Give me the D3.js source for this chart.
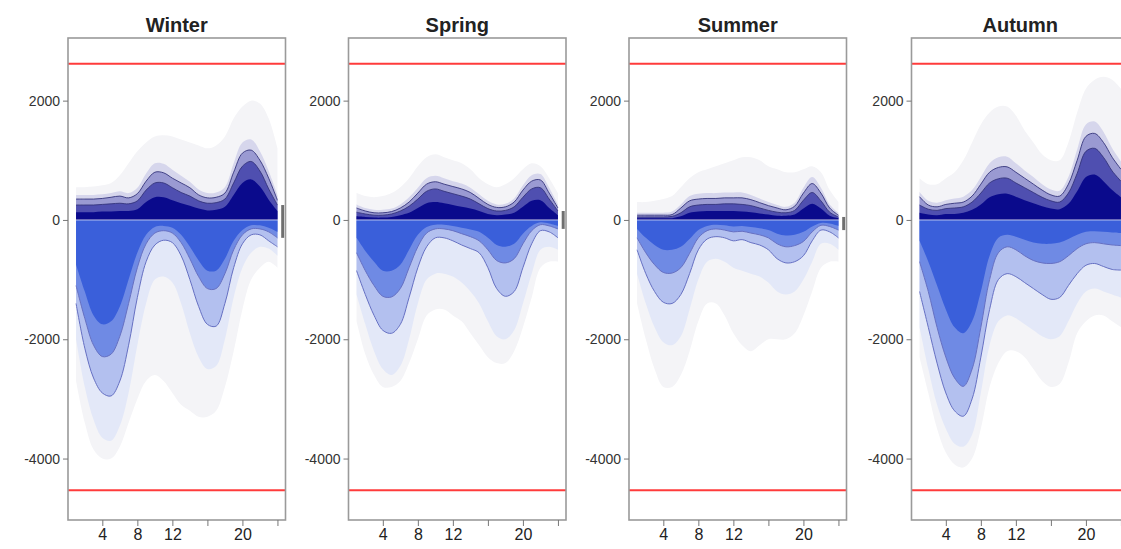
<!DOCTYPE html>
<html>
<head>
<meta charset="utf-8">
<script src="https://cdn.jsdelivr.net/npm/d3@7"></script>
<style>
body { margin: 0; background: #fff; }
text { font-family: "Liberation Sans", Arial, sans-serif; fill: #222; }
</style>
</head>
<body>
<div id="chart"></div>
<script>
//data
var seasons = ["Winter", "Spring", "Summer", "Autumn"];
var hours = [1, 2, 3, 4, 5, 6, 7, 8, 9, 10, 11, 12, 13, 14, 15, 16, 17, 18, 19, 20, 21, 22, 23, 24];
var levels = ["max", "q95", "q90", "q75", "q50"];
var yTicks = [2000, 0, -2000, -4000];
var xTicks = [4, 8, 12, 16, 20, 24];
var xLabels = [4, 8, 12, 20];
var limits = [2620, -4530];

// rows follow `levels`
var winterUp = [
    [550, 550, 560, 580, 620, 750, 950, 1150, 1300, 1400, 1420, 1400, 1350, 1300, 1250, 1200, 1250, 1400, 1700, 1900, 2000, 1950, 1700, 1200],
    [420, 420, 420, 430, 450, 480, 450, 540, 780, 950, 940, 840, 740, 640, 510, 450, 460, 550, 950, 1300, 1350, 1150, 820, 420],
    [350, 350, 350, 360, 380, 400, 370, 440, 650, 800, 790, 700, 620, 540, 420, 370, 380, 450, 800, 1120, 1170, 1000, 700, 330],
    [250, 250, 250, 260, 270, 280, 270, 320, 500, 620, 620, 540, 460, 400, 320, 280, 290, 350, 620, 900, 980, 820, 520, 250],
    [130, 130, 130, 140, 140, 150, 150, 180, 300, 380, 380, 330, 280, 240, 190, 160, 170, 220, 420, 620, 680, 560, 340, 150]
];
var winterDown = [
    [-2700, -3400, -3850, -4000, -4000, -3800, -3400, -3000, -2700, -2600, -2700, -2900, -3100, -3200, -3300, -3300, -3200, -2800, -2200, -1500, -1000, -800, -700, -800],
    [-2000, -2800, -3350, -3650, -3700, -3450, -2900, -2100, -1400, -1000, -950, -1050, -1400, -1900, -2300, -2500, -2450, -2000, -1300, -800, -550, -450, -480, -600],
    [-1400, -2150, -2650, -2900, -2950, -2700, -2100, -1300, -700, -420, -340, -380, -600, -1000, -1450, -1750, -1780, -1400, -800, -400, -250, -250, -350, -450],
    [-1100, -1650, -2100, -2290, -2250, -1950, -1400, -800, -400, -220, -180, -220, -380, -650, -950, -1150, -1150, -900, -500, -250, -150, -150, -200, -300],
    [-750, -1200, -1600, -1750, -1700, -1450, -1000, -550, -250, -120, -100, -130, -250, -450, -680, -850, -850, -650, -350, -170, -90, -90, -130, -200]
];
var springUp = [
    [450, 400, 380, 400, 450, 550, 700, 900, 1050, 1100, 1050, 1000, 950, 850, 700, 600, 550, 600, 700, 850, 950, 900, 700, 450],
    [260, 200, 170, 170, 190, 260, 380, 540, 700, 740, 700, 650, 610, 540, 430, 320, 260, 270, 360, 580, 750, 770, 540, 260],
    [200, 150, 120, 120, 140, 200, 300, 450, 600, 640, 600, 560, 520, 460, 360, 260, 210, 220, 300, 500, 650, 670, 450, 200],
    [130, 100, 80, 80, 100, 150, 230, 350, 480, 520, 480, 440, 400, 350, 270, 190, 150, 160, 220, 380, 520, 540, 350, 150],
    [60, 50, 40, 40, 50, 80, 120, 200, 280, 300, 280, 250, 220, 190, 150, 100, 80, 90, 120, 220, 320, 330, 200, 80]
];
var springDown = [
    [-1700, -2250, -2600, -2800, -2800, -2700, -2400, -2000, -1600, -1500, -1500, -1600, -1700, -1900, -2100, -2300, -2400, -2400, -2200, -1800, -1300, -800, -700, -700],
    [-1250, -1750, -2200, -2500, -2600, -2450, -2000, -1400, -1000, -900, -900, -950, -1050, -1200, -1400, -1700, -1950, -2000, -1850, -1400, -900, -500, -450, -500],
    [-850, -1250, -1600, -1850, -1900, -1750, -1300, -800, -450, -300, -300, -350, -420, -480, -550, -800, -1150, -1280, -1200, -800, -400, -180, -200, -300],
    [-550, -850, -1100, -1280, -1290, -1150, -800, -450, -220, -150, -150, -180, -230, -280, -350, -500, -680, -720, -650, -400, -180, -80, -100, -150],
    [-300, -520, -700, -850, -850, -750, -500, -250, -120, -80, -80, -100, -130, -160, -200, -300, -420, -450, -400, -230, -100, -40, -60, -100]
];
var summerUp = [
    [300, 300, 320, 350, 400, 550, 700, 800, 850, 900, 950, 1000, 1050, 1050, 1000, 900, 850, 800, 800, 850, 900, 800, 500, 300],
    [120, 120, 120, 120, 140, 260, 400, 440, 450, 450, 460, 460, 460, 420, 360, 300, 250, 220, 290, 540, 720, 540, 260, 120],
    [80, 80, 80, 80, 90, 200, 320, 350, 360, 360, 370, 370, 370, 340, 290, 240, 200, 170, 230, 450, 610, 450, 200, 80],
    [50, 50, 50, 50, 60, 120, 220, 250, 260, 260, 270, 270, 260, 240, 200, 160, 130, 120, 160, 330, 460, 320, 130, 50],
    [30, 30, 30, 30, 30, 60, 120, 140, 150, 150, 150, 150, 140, 130, 110, 90, 70, 70, 90, 190, 270, 190, 70, 30]
];
var summerDown = [
    [-1400, -2000, -2500, -2800, -2800, -2600, -2200, -1700, -1400, -1400, -1600, -1900, -2100, -2200, -2100, -2000, -2000, -2000, -1900, -1600, -1200, -800, -700, -700],
    [-900, -1400, -1800, -2050, -2100, -1950, -1500, -1000, -700, -650, -700, -800, -850, -900, -950, -1050, -1200, -1250, -1200, -1000, -700, -400, -400, -500],
    [-500, -900, -1200, -1380, -1400, -1250, -900, -500, -320, -280, -300, -350, -330, -380, -420, -500, -650, -720, -700, -600, -350, -170, -200, -300],
    [-300, -550, -750, -880, -890, -800, -560, -300, -180, -150, -170, -200, -190, -220, -250, -300, -400, -450, -430, -360, -200, -90, -110, -170],
    [-150, -300, -420, -500, -500, -450, -320, -170, -100, -80, -90, -110, -100, -120, -140, -170, -230, -260, -250, -200, -110, -50, -60, -100]
];
var autumnUp = [
    [700, 600, 600, 700, 800, 1000, 1300, 1600, 1800, 1900, 1900, 1750, 1500, 1300, 1100, 1000, 1000, 1300, 1800, 2200, 2350, 2400, 2350, 2200],
    [470, 320, 290, 330, 360, 390, 500, 720, 950, 1050, 1060, 950, 830, 720, 600, 510, 490, 720, 1180, 1600, 1650, 1480, 1200, 980],
    [390, 250, 220, 260, 280, 300, 400, 600, 800, 880, 890, 800, 700, 600, 500, 420, 400, 600, 1000, 1400, 1450, 1300, 1050, 850],
    [250, 180, 160, 190, 200, 220, 300, 450, 620, 690, 700, 620, 540, 460, 380, 320, 300, 450, 780, 1150, 1200, 1050, 820, 650],
    [120, 90, 80, 100, 100, 120, 170, 260, 380, 430, 440, 390, 330, 280, 230, 190, 180, 270, 480, 720, 760, 650, 500, 380]
];
var autumnDown = [
    [-2300, -2900, -3500, -3900, -4100, -4150, -4000, -3500, -2800, -2400, -2200, -2200, -2300, -2500, -2700, -2800, -2750, -2400, -1900, -1700, -1600, -1600, -1700, -1800],
    [-1800, -2500, -3100, -3500, -3750, -3800, -3600, -2900, -2100, -1700, -1600, -1650, -1750, -1850, -1950, -2000, -1950, -1700, -1400, -1200, -1150, -1200, -1250, -1300],
    [-1200, -1800, -2400, -2900, -3200, -3290, -3000, -2300, -1500, -1000, -900, -950, -1050, -1150, -1250, -1330, -1300, -1100, -900, -760, -730, -780, -830, -840],
    [-700, -1200, -1800, -2300, -2650, -2790, -2500, -1800, -1000, -550, -450, -500, -600, -680, -720, -730, -700, -600, -480, -400, -380, -400, -420, -430],
    [-350, -700, -1100, -1500, -1800, -1900, -1700, -1200, -600, -300, -250, -280, -330, -380, -400, -400, -380, -320, -250, -200, -190, -200, -210, -220]
];
var upData = [winterUp, springUp, summerUp, autumnUp];
var downData = [winterDown, springDown, summerDown, autumnDown];
//end data

//setup
var width = 1121,
    height = 549;
var panelLeft = [68, 348.5, 629, 911.5],
    panelWidth = 217.5,
    plotTop = 38,
    plotBottom = 520;

var upColors = ["#f4f4f7", "#d6d6ec", "#9a9ad2", "#4f4fb0", "#0a0a8c"];
var downColors = ["#f4f4f7", "#e3e8f8", "#b3c0ef", "#6f8ae4", "#3a5fda"];

var svg = d3.select("#chart").append("svg")
    .attr("width", width)
    .attr("height", height);

var y = d3.scaleLinear()
    .domain([-5030, 3050])
    .range([plotBottom, plotTop]);

var x = d3.scaleLinear()
    .domain([0.08, 24.92])
    .range([0, panelWidth]);

var area = d3.area()
    .x(function (d, j) { return x(hours[j]); })
    .y0(y(0))
    .y1(function (d) { return y(d); })
    .curve(d3.curveCatmullRom);

var line = d3.line()
    .x(function (d, j) { return x(hours[j]); })
    .y(function (d) { return y(d); })
    .curve(d3.curveCatmullRom);

seasons.forEach(function (name, i) {
    var g = svg.append("g")
        .attr("transform", "translate(" + panelLeft[i] + ",0)");

    g.append("clipPath").attr("id", "clip" + i)
        .append("rect")
        .attr("x", 0).attr("y", plotTop)
        .attr("width", panelWidth).attr("height", plotBottom - plotTop);

    var plot = g.append("g").attr("clip-path", "url(#clip" + i + ")");

    // fans, outermost first
    plot.selectAll(".up").data(upData[i])
        .enter().append("path")
        .attr("d", area)
        .style("fill", function (d, k) { return upColors[k]; });

    plot.selectAll(".down").data(downData[i])
        .enter().append("path")
        .attr("d", area)
        .style("fill", function (d, k) { return downColors[k]; });

    // contour lines at q90 and q75
    [2, 3].forEach(function (k) {
        plot.append("path").attr("d", line(upData[i][k]))
            .style("fill", "none").style("stroke", "#34347c").style("stroke-width", 0.9);
        plot.append("path").attr("d", line(downData[i][k]))
            .style("fill", "none").style("stroke", "#6670c2").style("stroke-width", 1);
    });

    plot.append("line")
        .attr("x1", 0).attr("x2", panelWidth)
        .attr("y1", y(0)).attr("y2", y(0))
        .style("stroke", "#fff").style("stroke-width", 1).style("opacity", 0.7);

    // small dark mark at the end of the day
    plot.append("line")
        .attr("x1", x(24.6)).attr("x2", x(24.6))
        .attr("y1", y(upData[i][3][23])).attr("y2", y(downData[i][3][23]))
        .style("stroke", "#333").style("stroke-width", 3).style("opacity", 0.7);

    // red limits
    plot.selectAll(".limit").data(limits)
        .enter().append("line")
        .attr("x1", 0).attr("x2", panelWidth)
        .attr("y1", function (d) { return y(d); })
        .attr("y2", function (d) { return y(d); })
        .style("stroke", "#ff3b3b").style("stroke-width", 2);

    // frame
    g.append("rect")
        .attr("x", 0).attr("y", plotTop)
        .attr("width", panelWidth).attr("height", plotBottom - plotTop)
        .style("fill", "none").style("stroke", "#9a9a9a").style("stroke-width", 1.6);

    // y axis
    var ya = g.append("g")
        .call(d3.axisLeft(y).tickValues(yTicks).tickSize(5).tickPadding(3)
            .tickFormat(function (d) { return String(d); }));
    ya.select(".domain").remove();
    ya.selectAll("line").attr("stroke", "#777");
    ya.selectAll("text").style("font-size", "14px").style("fill", "#333");

    // x axis
    var xa = g.append("g")
        .attr("transform", "translate(0," + plotBottom + ")")
        .call(d3.axisBottom(x).tickValues(xTicks).tickSize(6).tickPadding(3)
            .tickFormat(function (d) { return xLabels.indexOf(d) >= 0 ? d : ""; }));
    xa.select(".domain").remove();
    xa.selectAll("line").attr("stroke", "#777");
    xa.selectAll("text").style("font-size", "16px").style("fill", "#222");

    // title
    g.append("text")
        .attr("x", panelWidth / 2)
        .attr("y", 32)
        .attr("text-anchor", "middle")
        .style("font-size", "20px")
        .style("font-weight", "bold")
        .text(name);
});
</script>
</body>
</html>
